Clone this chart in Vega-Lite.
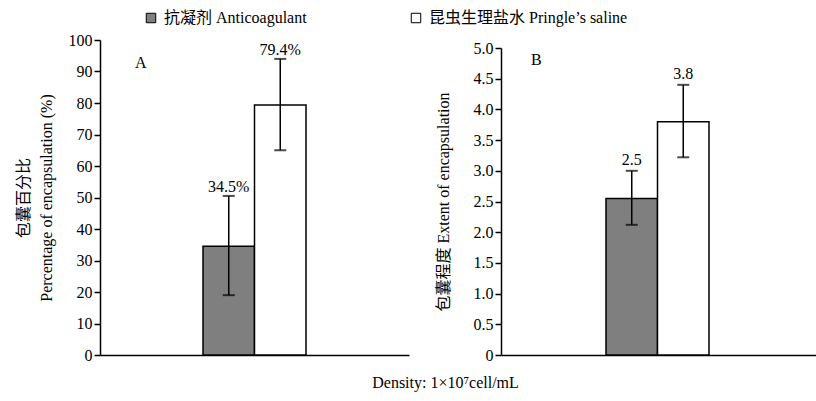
{
  "$schema": "https://vega.github.io/schema/vega-lite/v6.json",
  "background": "white",
  "autosize": {"type": "pad"},
  "padding": {"left": 15, "top": 10, "right": 0, "bottom": 4},
  "config": {
    "font": "'Liberation Serif', 'Noto Sans CJK SC', serif",
    "view": {"stroke": null},
    "axis": {
      "grid": false,
      "labelFont": "'Liberation Serif', 'Noto Sans CJK SC', serif",
      "labelFontSize": 16,
      "labelColor": "black",
      "labelOverlap": false,
      "labelFlush": false,
      "titleFont": "'Liberation Serif', 'Noto Sans CJK SC', serif",
      "titleFontSize": 16,
      "titleFontWeight": "normal",
      "titleColor": "black",
      "domainColor": "black",
      "domainWidth": 1.5,
      "tickColor": "black",
      "tickWidth": 1.5,
      "tickSize": 6
    },
    "title": {"fontWeight": "normal", "color": "black", "font": "'Liberation Serif', 'Noto Sans CJK SC', serif", "fontSize": 16}
  },
  "bounds": "flush",
  "spacing": 92,
  "data": {
    "values": [
      {"panel": "A", "d": "1×10⁷", "group": "抗凝剂 Anticoagulant", "value": 34.5, "lo": 19, "hi": 50.5, "label": "34.5%"},
      {"panel": "A", "d": "1×10⁷", "group": "昆虫生理盐水 Pringle’s saline", "value": 79.4, "lo": 65, "hi": 94, "label": "79.4%"},
      {"panel": "B", "d": "1×10⁷", "group": "抗凝剂 Anticoagulant", "value": 2.55, "lo": 2.12, "hi": 3.0, "label": "2.5"},
      {"panel": "B", "d": "1×10⁷", "group": "昆虫生理盐水 Pringle’s saline", "value": 3.8, "lo": 3.22, "hi": 4.4, "label": "3.8"}
    ]
  },
  "title": {"text": "Density: 1×10⁷cell/mL", "orient": "bottom", "anchor": "middle", "frame": "bounds", "offset": 12, "dx": 30},
  "hconcat": [
    {
      "width": 309,
      "height": 315,
      "title": {"text": "A", "anchor": "start", "orient": "top", "frame": "group", "offset": -39, "dx": 35},
      "transform": [{"filter": "datum.panel == 'A'"}],
      "encoding": {
        "x": {"field": "d", "type": "nominal",
              "scale": {"paddingInner": 0, "paddingOuter": 1},
              "axis": {"labels": false, "ticks": false, "title": null}},
        "xOffset": {"field": "group", "type": "nominal", "sort": null,
              "scale": {"paddingInner": 0, "paddingOuter": 0}},
        "y": {"field": "value", "type": "quantitative",
              "scale": {"domain": [0, 100]},
              "axis": {"values": [0,10,20,30,40,50,60,70,80,90,100], "labelOverlap": false, "title": ["包囊百分比", "Percentage of encapsulation (%)"], "titlePadding": 14, "titleLineHeight": 23}}
      },
      "layer": [
        {
          "mark": {"type": "bar", "stroke": "black", "strokeWidth": 1.5},
          "encoding": {
            "fill": {"field": "group", "type": "nominal", "sort": null,
                     "scale": {"domain": ["抗凝剂 Anticoagulant", "昆虫生理盐水 Pringle’s saline"], "range": ["#7f7f7f", "#ffffff"]},
                     "legend": {"orient": "none", "legendX": 43, "legendY": -30, "direction": "horizontal", "title": null,
                                "symbolType": "square", "symbolSize": 90, "symbolStrokeColor": "black", "symbolStrokeWidth": 1,
                                "labelFontSize": 16, "labelFont": "'Liberation Serif', 'Noto Sans CJK SC', serif", "labelColor": "black",
                                "columnPadding": 101, "labelOffset": 5, "labelLimit": 400}}
          }
        },
        {
          "mark": {"type": "rule", "color": "black", "strokeWidth": 1.5},
          "encoding": {"y": {"field": "lo", "type": "quantitative"}, "y2": {"field": "hi"}}
        },
        {
          "mark": {"type": "tick", "color": "black", "thickness": 2, "size": 12},
          "encoding": {"y": {"field": "lo", "type": "quantitative"}}
        },
        {
          "mark": {"type": "tick", "color": "black", "thickness": 2, "size": 12},
          "encoding": {"y": {"field": "hi", "type": "quantitative"}}
        },
        {
          "mark": {"type": "text", "baseline": "bottom", "dy": -1, "fontSize": 16, "color": "black"},
          "encoding": {"y": {"field": "hi", "type": "quantitative"}, "text": {"field": "label"}}
        }
      ]
    },
    {
      "width": 315,
      "height": 315,
      "title": {"text": "B", "anchor": "start", "orient": "top", "frame": "group", "offset": -28, "dx": 30},
      "transform": [{"filter": "datum.panel == 'B'"}],
      "encoding": {
        "x": {"field": "d", "type": "nominal",
              "scale": {"paddingInner": 0, "paddingOuter": 1},
              "axis": {"labels": false, "ticks": false, "title": null}},
        "xOffset": {"field": "group", "type": "nominal", "sort": null,
              "scale": {"paddingInner": 0, "paddingOuter": 0}},
        "y": {"field": "value", "type": "quantitative",
              "scale": {"domain": [0, 5], "range": [315, 8]},
              "axis": {"values": [0,0.5,1,1.5,2,2.5,3,3.5,4,4.5,5], "labelOverlap": false, "labelExpr": "datum.value == 0 ? '0' : format(datum.value, '.1f')", "title": "包囊程度 Extent of encapsulation", "titlePadding": 22}}
      },
      "layer": [
        {
          "mark": {"type": "bar", "stroke": "black", "strokeWidth": 1.5},
          "encoding": {
            "fill": {"field": "group", "type": "nominal", "sort": null,
                     "scale": {"domain": ["抗凝剂 Anticoagulant", "昆虫生理盐水 Pringle’s saline"], "range": ["#7f7f7f", "#ffffff"]},
                     "legend": {"orient": "none", "legendX": 43, "legendY": -30, "direction": "horizontal", "title": null,
                                "symbolType": "square", "symbolSize": 90, "symbolStrokeColor": "black", "symbolStrokeWidth": 1,
                                "labelFontSize": 16, "labelFont": "'Liberation Serif', 'Noto Sans CJK SC', serif", "labelColor": "black",
                                "columnPadding": 101, "labelOffset": 5, "labelLimit": 400}}
          }
        },
        {
          "mark": {"type": "rule", "color": "black", "strokeWidth": 1.5},
          "encoding": {"y": {"field": "lo", "type": "quantitative"}, "y2": {"field": "hi"}}
        },
        {
          "mark": {"type": "tick", "color": "black", "thickness": 2, "size": 12},
          "encoding": {"y": {"field": "lo", "type": "quantitative"}}
        },
        {
          "mark": {"type": "tick", "color": "black", "thickness": 2, "size": 12},
          "encoding": {"y": {"field": "hi", "type": "quantitative"}}
        },
        {
          "mark": {"type": "text", "baseline": "bottom", "dy": -3, "fontSize": 16, "color": "black"},
          "encoding": {"y": {"field": "hi", "type": "quantitative"}, "text": {"field": "label"}}
        }
      ]
    }
  ]
}
